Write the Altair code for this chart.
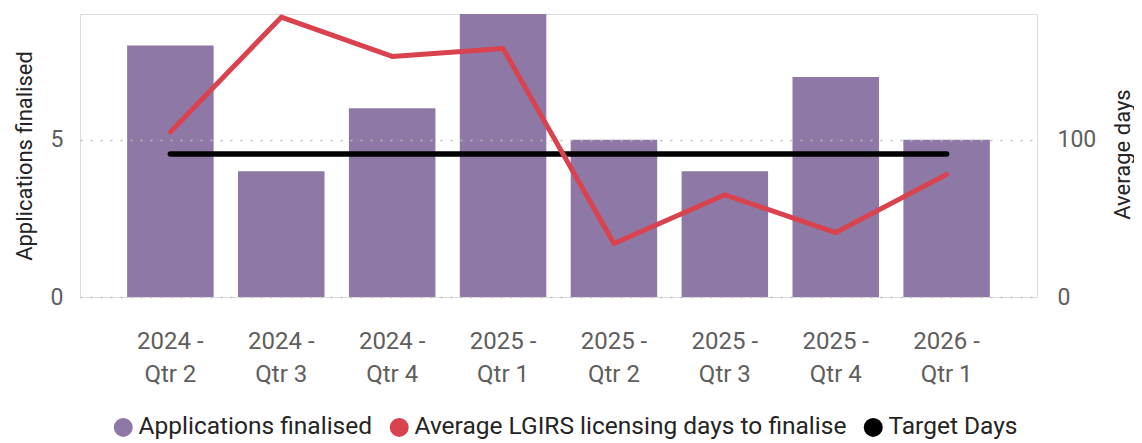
import altair as alt
import pandas as pd

quarters = ["2024 - Qtr 2", "2024 - Qtr 3", "2024 - Qtr 4", "2025 - Qtr 1",
            "2025 - Qtr 2", "2025 - Qtr 3", "2025 - Qtr 4", "2026 - Qtr 1"]
applications = [8, 4, 6, 9, 5, 4, 7, 5]
avg_days = [105, 178, 153, 158, 34, 65, 41, 78]
target_days = [91, 91, 91, 91, 91, 91, 91, 91]
series_names = ["Applications finalised",
                "Average LGIRS licensing days to finalise",
                "Target Days"]
series_colors = ["#8E78A6", "#D9434F", "#000000"]

df_bar = pd.DataFrame({"quarter": quarters, "apps": applications, "series": series_names[0]})
df_avg = pd.DataFrame({"quarter": quarters, "days": avg_days, "series": series_names[1]})
df_tgt = pd.DataFrame({"quarter": quarters, "days": target_days, "series": series_names[2]})

FONT = "Roboto"
color_scale = alt.Scale(domain=series_names, range=series_colors)

x_enc = alt.X(
    "quarter:N", sort=quarters,
    scale=alt.Scale(paddingInner=0.22, paddingOuter=0.425),
    axis=alt.Axis(
        title=None, labelAngle=0, domain=False, ticks=False, grid=False,
        labelFont=FONT, labelFontSize=24, labelColor="#605E5C",
        labelPadding=32, labelLineHeight=33,
        labelExpr="[slice(datum.label, 0, 6), slice(datum.label, 7)]",
    ),
)

legend = alt.Legend(
    title=None, orient="none", legendX=31, legendY=401, direction="horizontal",
    symbolType="circle", symbolSize=361, symbolStrokeWidth=0,
    labelFont=FONT, labelFontSize=24.5, labelColor="#252423",
    labelLimit=700, columnPadding=14, labelOffset=3,
)

bars = alt.Chart(df_bar).mark_bar().encode(
    x=x_enc,
    y=alt.Y(
        "apps:Q", scale=alt.Scale(domain=[0, 9], nice=False),
        axis=alt.Axis(
            title="Applications finalised", orient="left", values=[0, 5],
            domain=False, ticks=False, grid=True, gridDash=[2, 8],
            gridColor="#BDBDBD", gridWidth=1.5, zindex=1,
            labelFont=FONT, labelFontSize=23, labelColor="#605E5C", labelPadding=17,
            titleFont=FONT, titleFontSize=22, titleFontWeight="normal",
            titleColor="#252423", titlePadding=14,
        ),
    ),
    color=alt.Color("series:N", scale=color_scale, legend=legend),
)

right_axis = alt.Axis(
    title="Average days", orient="right", values=[0, 100],
    domain=False, ticks=False, grid=False, gridOpacity=0,
    labelFont=FONT, labelFontSize=23, labelColor="#605E5C", labelPadding=20,
    titleFont=FONT, titleFontSize=22, titleFontWeight="normal",
    titleColor="#252423", titleAngle=270, titleX=85, titleY=140,
    titleBaseline="middle", titleAlign="center",
)

avg_line = alt.Chart(df_avg).mark_line(strokeWidth=5, strokeCap="round", strokeJoin="round").encode(
    x=alt.X("quarter:N", sort=quarters),
    y=alt.Y("days:Q", scale=alt.Scale(domain=[0, 180], nice=False), axis=right_axis),
    color=alt.Color("series:N", scale=color_scale, legend=legend),
)

tgt_line = alt.Chart(df_tgt).mark_line(strokeWidth=5.5, strokeCap="round").encode(
    x=alt.X("quarter:N", sort=quarters),
    y=alt.Y("days:Q", scale=alt.Scale(domain=[0, 180], nice=False), axis=right_axis),
    color=alt.Color("series:N", scale=color_scale, legend=legend),
)

lines = alt.layer(tgt_line, avg_line)

chart = alt.layer(bars, lines).resolve_scale(y="independent").properties(
    width=957, height=283,
    padding={"left": 72, "top": 6, "right": 97, "bottom": 145},
    autosize=alt.AutoSizeParams(type="none"),
).configure_view(
    stroke=None, strokeWidth=0, strokeOpacity=0
).configure_axis(
    gridOpacity=1
).configure(font=FONT, background="white")

chart.save("out.html", embed_options={"renderer": "svg", "actions": False})
